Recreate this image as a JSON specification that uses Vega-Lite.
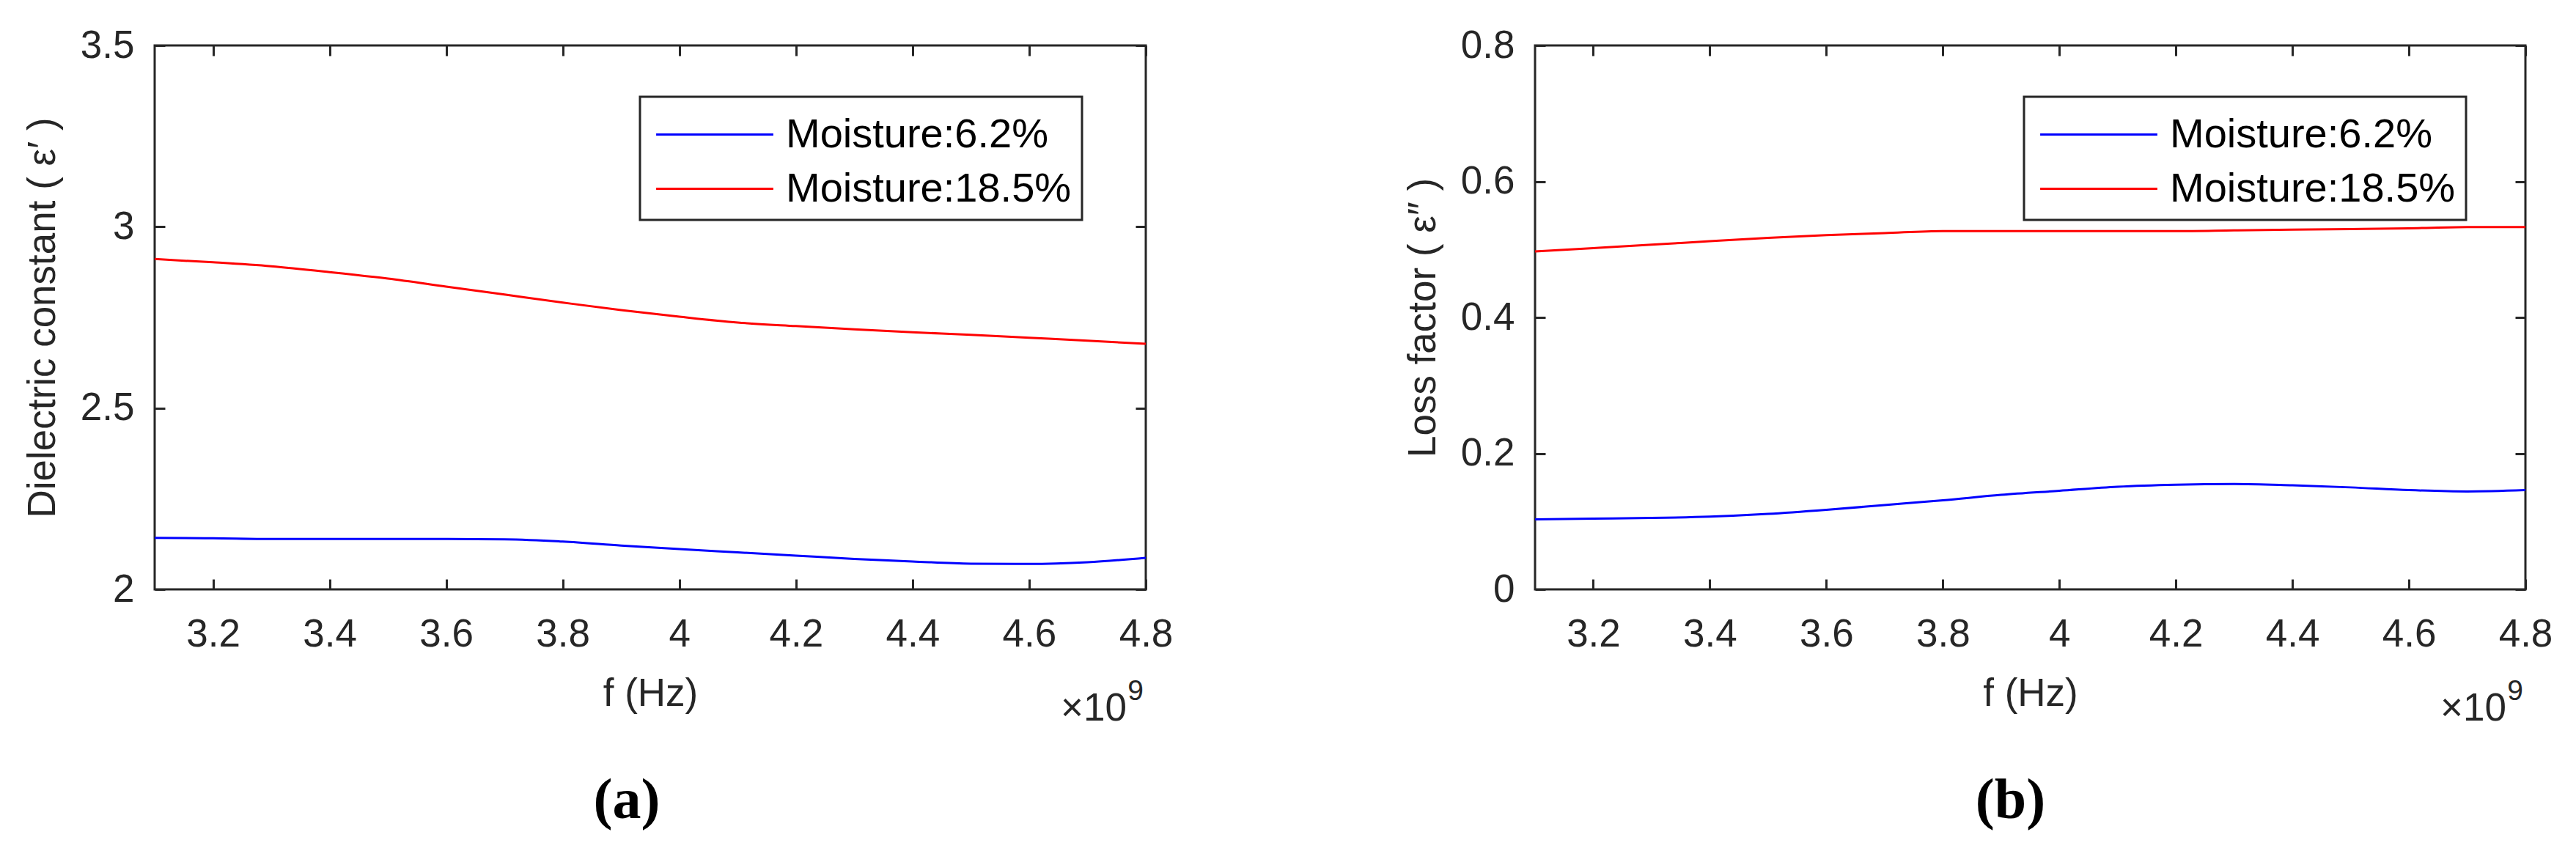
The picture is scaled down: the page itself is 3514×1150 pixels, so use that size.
{
  "$schema": "https://vega.github.io/schema/vega-lite/v6.json",
  "background": "white",
  "padding": {"left": 30, "top": 34, "right": 5, "bottom": 5},
  "spacing": 311,
  "config": {
    "font": "Liberation Sans",
    "view": {"stroke": "#262626", "strokeWidth": 3},
    "axis": {
      "grid": false, "domain": false, "ticks": true, "tickSize": -14, "tickWidth": 3, "tickColor": "#262626",
      "labelFont": "Liberation Sans", "labelFontSize": 53, "labelColor": "#262626",
      "labelFlush": false, "labelOverlap": false, "labelBound": false,
      "titleFont": "Liberation Sans", "titleFontSize": 53, "titleFontWeight": "normal", "titleColor": "#262626"
    },
    "axisX": {"labelPadding": 49, "titlePadding": 28},
    "axisY": {"labelPadding": 42, "titlePadding": 24},
    "legend": {
      "strokeColor": "#262626", "strokeWidth": 3, "fillColor": "white", "padding": 14,
      "symbolSize": 5184, "symbolStrokeWidth": 3, "symbolOffset": 50.5, "labelOffset": 59.5,
      "labelFont": "Liberation Sans", "labelFontSize": 56, "labelColor": "#000000", "labelLimit": 0, "rowPadding": 8
    }
  },
  "datasets": {
    "epsPrime": [
      {"f": 3.1, "moisture": "Moisture:6.2%", "value": 2.142},
      {"f": 3.2, "moisture": "Moisture:6.2%", "value": 2.141},
      {"f": 3.3, "moisture": "Moisture:6.2%", "value": 2.139},
      {"f": 3.4, "moisture": "Moisture:6.2%", "value": 2.139},
      {"f": 3.5, "moisture": "Moisture:6.2%", "value": 2.139},
      {"f": 3.6, "moisture": "Moisture:6.2%", "value": 2.139},
      {"f": 3.7, "moisture": "Moisture:6.2%", "value": 2.138},
      {"f": 3.8, "moisture": "Moisture:6.2%", "value": 2.132},
      {"f": 3.9, "moisture": "Moisture:6.2%", "value": 2.121},
      {"f": 4.0, "moisture": "Moisture:6.2%", "value": 2.111},
      {"f": 4.1, "moisture": "Moisture:6.2%", "value": 2.102},
      {"f": 4.2, "moisture": "Moisture:6.2%", "value": 2.093},
      {"f": 4.3, "moisture": "Moisture:6.2%", "value": 2.084},
      {"f": 4.4, "moisture": "Moisture:6.2%", "value": 2.077},
      {"f": 4.5, "moisture": "Moisture:6.2%", "value": 2.071},
      {"f": 4.6, "moisture": "Moisture:6.2%", "value": 2.070},
      {"f": 4.7, "moisture": "Moisture:6.2%", "value": 2.075},
      {"f": 4.8, "moisture": "Moisture:6.2%", "value": 2.087},
      {"f": 3.1, "moisture": "Moisture:18.5%", "value": 2.911},
      {"f": 3.2, "moisture": "Moisture:18.5%", "value": 2.902},
      {"f": 3.3, "moisture": "Moisture:18.5%", "value": 2.891},
      {"f": 3.4, "moisture": "Moisture:18.5%", "value": 2.875},
      {"f": 3.5, "moisture": "Moisture:18.5%", "value": 2.857},
      {"f": 3.6, "moisture": "Moisture:18.5%", "value": 2.835},
      {"f": 3.7, "moisture": "Moisture:18.5%", "value": 2.813},
      {"f": 3.8, "moisture": "Moisture:18.5%", "value": 2.791},
      {"f": 3.9, "moisture": "Moisture:18.5%", "value": 2.770},
      {"f": 4.0, "moisture": "Moisture:18.5%", "value": 2.752},
      {"f": 4.1, "moisture": "Moisture:18.5%", "value": 2.736},
      {"f": 4.2, "moisture": "Moisture:18.5%", "value": 2.726},
      {"f": 4.3, "moisture": "Moisture:18.5%", "value": 2.717},
      {"f": 4.4, "moisture": "Moisture:18.5%", "value": 2.709},
      {"f": 4.5, "moisture": "Moisture:18.5%", "value": 2.702},
      {"f": 4.6, "moisture": "Moisture:18.5%", "value": 2.694},
      {"f": 4.7, "moisture": "Moisture:18.5%", "value": 2.686},
      {"f": 4.8, "moisture": "Moisture:18.5%", "value": 2.677}
    ],
    "epsDouble": [
      {"f": 3.1, "moisture": "Moisture:6.2%", "value": 0.103},
      {"f": 3.2, "moisture": "Moisture:6.2%", "value": 0.104},
      {"f": 3.3, "moisture": "Moisture:6.2%", "value": 0.105},
      {"f": 3.4, "moisture": "Moisture:6.2%", "value": 0.107},
      {"f": 3.5, "moisture": "Moisture:6.2%", "value": 0.111},
      {"f": 3.6, "moisture": "Moisture:6.2%", "value": 0.117},
      {"f": 3.7, "moisture": "Moisture:6.2%", "value": 0.124},
      {"f": 3.8, "moisture": "Moisture:6.2%", "value": 0.131},
      {"f": 3.9, "moisture": "Moisture:6.2%", "value": 0.139},
      {"f": 4.0, "moisture": "Moisture:6.2%", "value": 0.145},
      {"f": 4.1, "moisture": "Moisture:6.2%", "value": 0.151},
      {"f": 4.2, "moisture": "Moisture:6.2%", "value": 0.154},
      {"f": 4.3, "moisture": "Moisture:6.2%", "value": 0.155},
      {"f": 4.4, "moisture": "Moisture:6.2%", "value": 0.153},
      {"f": 4.5, "moisture": "Moisture:6.2%", "value": 0.150},
      {"f": 4.6, "moisture": "Moisture:6.2%", "value": 0.146},
      {"f": 4.7, "moisture": "Moisture:6.2%", "value": 0.144},
      {"f": 4.8, "moisture": "Moisture:6.2%", "value": 0.146},
      {"f": 3.1, "moisture": "Moisture:18.5%", "value": 0.497},
      {"f": 3.2, "moisture": "Moisture:18.5%", "value": 0.502},
      {"f": 3.3, "moisture": "Moisture:18.5%", "value": 0.507},
      {"f": 3.4, "moisture": "Moisture:18.5%", "value": 0.512},
      {"f": 3.5, "moisture": "Moisture:18.5%", "value": 0.517},
      {"f": 3.6, "moisture": "Moisture:18.5%", "value": 0.521},
      {"f": 3.7, "moisture": "Moisture:18.5%", "value": 0.524},
      {"f": 3.8, "moisture": "Moisture:18.5%", "value": 0.527},
      {"f": 3.9, "moisture": "Moisture:18.5%", "value": 0.527},
      {"f": 4.0, "moisture": "Moisture:18.5%", "value": 0.527},
      {"f": 4.1, "moisture": "Moisture:18.5%", "value": 0.527},
      {"f": 4.2, "moisture": "Moisture:18.5%", "value": 0.527},
      {"f": 4.3, "moisture": "Moisture:18.5%", "value": 0.528},
      {"f": 4.4, "moisture": "Moisture:18.5%", "value": 0.529},
      {"f": 4.5, "moisture": "Moisture:18.5%", "value": 0.530},
      {"f": 4.6, "moisture": "Moisture:18.5%", "value": 0.531},
      {"f": 4.7, "moisture": "Moisture:18.5%", "value": 0.533},
      {"f": 4.8, "moisture": "Moisture:18.5%", "value": 0.533}
    ]
  },
  "resolve": {"scale": {"color": "independent"}, "legend": {"color": "independent"}},
  "hconcat": [
    {
      "width": 1352,
      "height": 742,
      "title": {"text": "(a)", "orient": "bottom", "anchor": "middle", "frame": "group", "dx": -32, "offset": 60, "font": "Liberation Serif", "fontWeight": "bold", "fontSize": 78, "color": "#000000"},
      "data": {"name": "epsPrime"},
      "layer": [
        {
          "mark": {"type": "line", "strokeWidth": 3, "interpolate": "monotone"},
          "encoding": {
            "x": {"field": "f", "type": "quantitative", "scale": {"domain": [3.1, 4.8], "nice": false, "zero": false},
                  "axis": {"values": [3.2, 3.4, 3.6, 3.8, 4, 4.2, 4.4, 4.6, 4.8], "format": "~g", "title": "f (Hz)"}},
            "y": {"field": "value", "type": "quantitative", "scale": {"domain": [2, 3.5], "nice": false, "zero": false},
                  "axis": {"values": [2, 2.5, 3, 3.5], "format": "~g", "title": "Dielectric constant ( ε′ )"}},
            "color": {"field": "moisture", "type": "nominal", "sort": ["Moisture:6.2%", "Moisture:18.5%"],
                      "scale": {"domain": ["Moisture:6.2%", "Moisture:18.5%"], "range": ["#0000ff", "#ff0000"]},
                      "legend": {"title": null, "orient": "none", "legendX": 662, "legendY": 70, "symbolType": "M-2.22,0L2.22,0"}}
          }
        },
        {
          "mark": {"type": "line", "opacity": 0},
          "encoding": {
            "x": {"field": "f", "type": "quantitative", "axis": {"orient": "top", "values": [3.2, 3.4, 3.6, 3.8, 4, 4.2, 4.4, 4.6, 4.8], "labels": false, "title": null}},
            "y": {"field": "value", "type": "quantitative", "axis": {"orient": "right", "values": [2, 2.5, 3, 3.5], "labels": false, "title": null}},
            "detail": {"field": "moisture"}
          }
        },
        {
          "data": {"values": [{}]},
          "mark": {"type": "text", "align": "right", "baseline": "alphabetic", "fontSize": 53, "dx": -26, "color": "#262626", "font": "Liberation Sans"},
          "encoding": {
            "x": {"datum": 4.8, "type": "quantitative", "axis": null},
            "y": {"datum": 1.638, "type": "quantitative", "axis": null},
            "text": {"value": "×10"}
          }
        },
        {
          "data": {"values": [{}]},
          "mark": {"type": "text", "align": "right", "baseline": "alphabetic", "fontSize": 39, "dx": -3, "dy": -28, "color": "#262626", "font": "Liberation Sans"},
          "encoding": {
            "x": {"datum": 4.8, "type": "quantitative", "axis": null},
            "y": {"datum": 1.638, "type": "quantitative", "axis": null},
            "text": {"value": "9"}
          }
        }
      ],
      "resolve": {"axis": {"x": "independent", "y": "independent"}}
    },
    {
      "width": 1351,
      "height": 742,
      "title": {"text": "(b)", "orient": "bottom", "anchor": "middle", "frame": "group", "dx": -27, "offset": 60, "font": "Liberation Serif", "fontWeight": "bold", "fontSize": 78, "color": "#000000"},
      "data": {"name": "epsDouble"},
      "layer": [
        {
          "mark": {"type": "line", "strokeWidth": 3, "interpolate": "monotone"},
          "encoding": {
            "x": {"field": "f", "type": "quantitative", "scale": {"domain": [3.1, 4.8], "nice": false, "zero": false},
                  "axis": {"values": [3.2, 3.4, 3.6, 3.8, 4, 4.2, 4.4, 4.6, 4.8], "format": "~g", "title": "f (Hz)"}},
            "y": {"field": "value", "type": "quantitative", "scale": {"domain": [0, 0.8], "nice": false},
                  "axis": {"values": [0, 0.2, 0.4, 0.6, 0.8], "format": "~g", "title": "Loss factor ( ε″ )"}},
            "color": {"field": "moisture", "type": "nominal", "sort": ["Moisture:6.2%", "Moisture:18.5%"],
                      "scale": {"domain": ["Moisture:6.2%", "Moisture:18.5%"], "range": ["#0000ff", "#ff0000"]},
                      "legend": {"title": null, "orient": "none", "legendX": 667, "legendY": 70, "symbolType": "M-2.22,0L2.22,0"}}
          }
        },
        {
          "mark": {"type": "line", "opacity": 0},
          "encoding": {
            "x": {"field": "f", "type": "quantitative", "axis": {"orient": "top", "values": [3.2, 3.4, 3.6, 3.8, 4, 4.2, 4.4, 4.6, 4.8], "labels": false, "title": null}},
            "y": {"field": "value", "type": "quantitative", "axis": {"orient": "right", "values": [0, 0.2, 0.4, 0.6, 0.8], "labels": false, "title": null}},
            "detail": {"field": "moisture"}
          }
        },
        {
          "data": {"values": [{}]},
          "mark": {"type": "text", "align": "right", "baseline": "alphabetic", "fontSize": 53, "dx": -26, "color": "#262626", "font": "Liberation Sans"},
          "encoding": {
            "x": {"datum": 4.8, "type": "quantitative", "axis": null},
            "y": {"datum": -0.193, "type": "quantitative", "axis": null},
            "text": {"value": "×10"}
          }
        },
        {
          "data": {"values": [{}]},
          "mark": {"type": "text", "align": "right", "baseline": "alphabetic", "fontSize": 39, "dx": -3, "dy": -28, "color": "#262626", "font": "Liberation Sans"},
          "encoding": {
            "x": {"datum": 4.8, "type": "quantitative", "axis": null},
            "y": {"datum": -0.193, "type": "quantitative", "axis": null},
            "text": {"value": "9"}
          }
        }
      ],
      "resolve": {"axis": {"x": "independent", "y": "independent"}}
    }
  ]
}
